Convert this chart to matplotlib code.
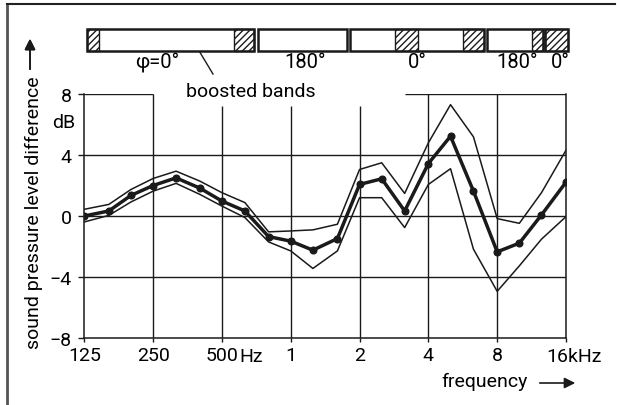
import numpy as np
import matplotlib
matplotlib.use('Agg')
import matplotlib.pyplot as plt
from matplotlib.patches import Rectangle
from matplotlib.lines import Line2D

plt.rcParams['font.family'] = ['Roboto', 'DejaVu Sans']
plt.rcParams['font.size'] = 14
plt.rcParams['hatch.linewidth'] = 1.0

# third-octave band centres (Hz) and level differences (dB)
freqs = [125, 160, 200, 250, 315, 400, 500, 630, 800, 1000, 1250, 1600,
         2000, 2500, 3150, 4000, 5000, 6300, 8000, 10000, 12500, 16000]
mean_db = [0.0, 0.33, 1.35, 2.0, 2.5, 1.83, 0.98, 0.33, -1.35, -1.65, -2.24, -1.48,
           2.07, 2.44, 0.33, 3.44, 5.23, 1.63, -2.35, -1.78, 0.07, 2.22]
upper_db = [0.44, 0.76, 1.74, 2.46, 2.94, 2.29, 1.53, 0.88, -1.04, -0.98, -0.91, -0.54,
            3.05, 3.49, 1.48, 4.8, 7.3, 5.19, -0.17, -0.48, 1.53, 4.31]
lower_db = [-0.39, 0.04, 0.92, 1.63, 2.14, 1.42, 0.65, -0.1, -1.7, -2.29, -3.44, -2.29,
            1.2, 1.2, -0.76, 2.07, 3.1, -2.18, -4.94, -3.27, -1.52, -0.04]

tick_freqs = [125, 250, 500, 1000, 2000, 4000, 8000, 16000]
tick_labels = ['125', '250', '500', '1', '2', '4', '8', '']
ytick_vals = [8, 4, 0, -4, -8]
ytick_labels = ['8', '4', '0', '\u22124', '\u22128']

# filter segments (Hz) and boosted (hatched) bands
segments = [(128, 692), (717, 1769), (1817, 7012), (7205, 12670), (12960, 16400)]
boosted = [(128, 145), (566, 692), (2860, 3618), (5693, 7012), (11340, 12670), (12960, 16400)]
phase_labels = ['\u03c6=0\u00b0', '180\u00b0', '0\u00b0', '180\u00b0', '0\u00b0']
phase_pos = [260, 1153, 3565, 9770, 15070]

ink = '#1a1a1a'

fig = plt.figure(figsize=(6.17, 4.06), dpi=100)
ax = fig.add_axes([84.3 / 617, 1 - 339 / 406, (566 - 84.3) / 617, (339 - 95) / 406])
ax.set_xscale('log', base=2)
ax.set_xlim(125, 16000)
ax.set_ylim(-8, 8)

# grid
for y in [4, 0, -4]:
    ax.axhline(y, color=ink, lw=1.0, zorder=1)
ax.hlines(8, 125, 250, color=ink, lw=1.0, zorder=1)
ax.hlines(8, 3150, 16000, color=ink, lw=1.0, zorder=1)
grid_tops = {250: 8, 500: 7.2, 1000: 7.2, 2000: 7.2, 4000: 8, 8000: 8}
for f, top in grid_tops.items():
    ax.vlines(f, -8, top, color=ink, lw=1.0, zorder=1)

ax.spines['top'].set_visible(False)
for side in ['left', 'right', 'bottom']:
    ax.spines[side].set_color(ink)
    ax.spines[side].set_linewidth(1.1)

# curves
ax.plot(freqs, upper_db, color=ink, lw=1.1, zorder=3)
ax.plot(freqs, lower_db, color=ink, lw=1.1, zorder=3)
ax.plot(freqs, mean_db, color=ink, lw=2.5, marker='o', ms=4.8, zorder=4)

# ticks
ax.set_xticks(tick_freqs)
ax.set_xticklabels(tick_labels)
ax.minorticks_off()
ax.tick_params(axis='x', direction='out', length=3, width=1, color=ink, pad=3)
ax.set_yticks(ytick_vals)
ax.set_yticklabels(ytick_labels)
ax.tick_params(axis='y', direction='out', length=4, width=1, color=ink, pad=5)
ax.annotate('Hz', (500, -8), xytext=(17, -18), textcoords='offset pixels',
            ha='left', va='center')
ax.annotate('16kHz', (16000, -8), xytext=(-20, -18), textcoords='offset pixels',
            ha='left', va='center')
ax.annotate('dB', (125, 6.16), xytext=(-21, 0), textcoords='offset pixels',
            ha='center', va='center')

# filter bar on top
bar_lo, bar_hi = 10.82, 12.26
for a, b in boosted:
    ax.add_patch(Rectangle((a, bar_lo), b - a, bar_hi - bar_lo, facecolor='white',
                           edgecolor=ink, hatch='/////', lw=1.0, clip_on=False, zorder=5))
for a, b in segments:
    ax.add_patch(Rectangle((a, bar_lo), b - a, bar_hi - bar_lo, facecolor='none',
                           edgecolor=ink, lw=1.8, clip_on=False, zorder=6))
for lab, f in zip(phase_labels, phase_pos):
    ax.text(f, 10.1, lab, ha='center', va='center', fontsize=14.5)

ax.text(670, 8.2, 'boosted bands', ha='center', va='center', fontsize=14)
ax.plot([400, 457], [10.75, 9.31], color=ink, lw=1.0, clip_on=False)

# axis titles with arrows
fig.text(34 / 617, 1 - 213 / 406, 'sound pressure level difference',
         rotation=90, ha='center', va='center', fontsize=14)
fig.add_artist(plt.annotate('', xy=(30 / 617, 1 - 37 / 406), xytext=(30 / 617, 1 - 73 / 406),
                            xycoords='figure fraction', textcoords='figure fraction',
                            arrowprops=dict(arrowstyle='-|>', color=ink, lw=1.2,
                                            mutation_scale=16)))
fig.text(485 / 617, 1 - 382 / 406, 'frequency', ha='center', va='center', fontsize=14)
ax.annotate('', xy=(578 / 617, 1 - 384 / 406), xytext=(537 / 617, 1 - 384 / 406),
            xycoords='figure fraction', textcoords='figure fraction',
            arrowprops=dict(arrowstyle='-|>', color=ink, lw=1.2, mutation_scale=16))

# scan frame
fig.add_artist(Line2D([7 / 617, 7 / 617], [0, 1 - 5 / 406], color='#555555', lw=2))
fig.add_artist(Line2D([7 / 617, 615 / 617], [1 - 5 / 406, 1 - 5 / 406], color='#222222', lw=1.5))

fig.savefig('out.png', dpi=100, facecolor='white')
